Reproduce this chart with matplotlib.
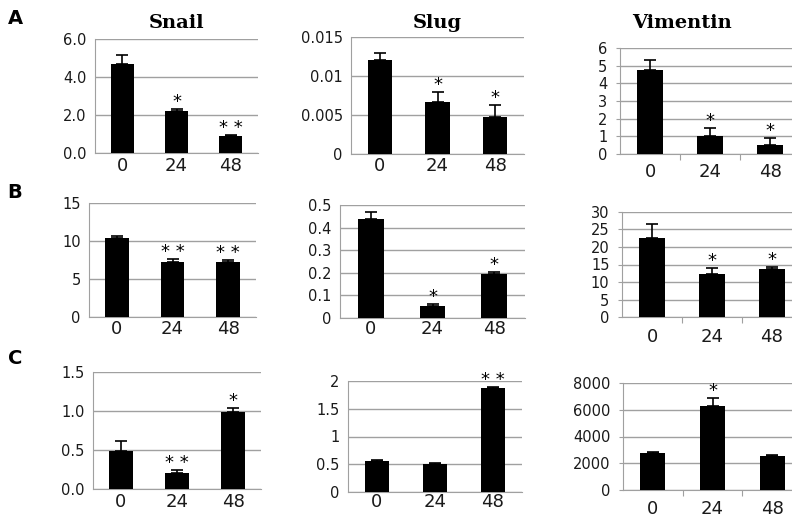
import numpy as np
import matplotlib.pyplot as plt

hours = ['0', '24', '48']
genes = ['Snail', 'Slug', 'Vimentin']
rows = ['A', 'B', 'C']

# mean values and (upward) error bars, row by row, gene by gene
means = {
    ('A', 'Snail'): [4.68, 2.19, 0.91],
    ('A', 'Slug'): [0.0121, 0.00665, 0.0048],
    ('A', 'Vimentin'): [4.77, 1.0, 0.53],
    ('B', 'Snail'): [10.4, 7.3, 7.3],
    ('B', 'Slug'): [0.438, 0.052, 0.196],
    ('B', 'Vimentin'): [22.6, 12.4, 13.7],
    ('C', 'Snail'): [0.49, 0.20, 0.99],
    ('C', 'Slug'): [0.55, 0.513, 1.875],
    ('C', 'Vimentin'): [2800, 6300, 2525],
}
errs = {
    ('A', 'Snail'): [0.46, 0.12, 0.05],
    ('A', 'Slug'): [0.0009, 0.0013, 0.0015],
    ('A', 'Vimentin'): [0.57, 0.49, 0.37],
    ('B', 'Snail'): [0.3, 0.3, 0.15],
    ('B', 'Slug'): [0.03, 0.01, 0.008],
    ('B', 'Vimentin'): [4.1, 1.7, 0.7],
    ('C', 'Snail'): [0.12, 0.045, 0.043],
    ('C', 'Slug'): [0.023, 0.012, 0.015],
    ('C', 'Vimentin'): [25, 550, 75],
}
stars = {
    ('A', 'Snail'): ['', '*', '* *'],
    ('A', 'Slug'): ['', '*', '*'],
    ('A', 'Vimentin'): ['', '*', '*'],
    ('B', 'Snail'): ['', '* *', '* *'],
    ('B', 'Slug'): ['', '*', '*'],
    ('B', 'Vimentin'): ['', '*', '*'],
    ('C', 'Snail'): ['', '* *', '*'],
    ('C', 'Slug'): ['', '', '* *'],
    ('C', 'Vimentin'): ['', '*', ''],
}
yticks = {
    ('A', 'Snail'): ([0, 2, 4, 6], ['0.0', '2.0', '4.0', '6.0']),
    ('A', 'Slug'): ([0, 0.005, 0.01, 0.015], ['0', '0.005', '0.01', '0.015']),
    ('A', 'Vimentin'): ([0, 1, 2, 3, 4, 5, 6], ['0', '1', '2', '3', '4', '5', '6']),
    ('B', 'Snail'): ([0, 5, 10, 15], ['0', '5', '10', '15']),
    ('B', 'Slug'): ([0, 0.1, 0.2, 0.3, 0.4, 0.5], ['0', '0.1', '0.2', '0.3', '0.4', '0.5']),
    ('B', 'Vimentin'): ([0, 5, 10, 15, 20, 25, 30], ['0', '5', '10', '15', '20', '25', '30']),
    ('C', 'Snail'): ([0, 0.5, 1.0, 1.5], ['0.0', '0.5', '1.0', '1.5']),
    ('C', 'Slug'): ([0, 0.5, 1, 1.5, 2], ['0', '0.5', '1', '1.5', '2']),
    ('C', 'Vimentin'): ([0, 2000, 4000, 6000, 8000], ['0', '2000', '4000', '6000', '8000']),
}

# axes boxes in pixels: left, top, right, bottom ; label y position
W, H = 792, 519
boxes = {
    ('A', 'Snail'): (95, 39, 258, 153, 166),
    ('A', 'Slug'): (351, 37, 524, 154, 166),
    ('A', 'Vimentin'): (620, 48, 800, 154, 172),
    ('B', 'Snail'): (89, 203, 256, 317, 329),
    ('B', 'Slug'): (340, 205, 525, 318, 329),
    ('B', 'Vimentin'): (622, 212, 802, 317, 337),
    ('C', 'Snail'): (93, 372, 261, 489, 502),
    ('C', 'Slug'): (348, 381, 522, 492, 502),
    ('C', 'Vimentin'): (623, 383, 802, 490, 509),
}

fig = plt.figure(figsize=(W / 100, H / 100), dpi=100)
x = np.arange(3)

for r in rows:
    for g in genes:
        key = (r, g)
        l, t, rr, b, ly = boxes[key]
        ax = fig.add_axes([l / W, 1 - b / H, (rr - l) / W, (b - t) / H])
        m = np.array(means[key])
        e = np.array(errs[key])
        ax.bar(x, m, width=0.42, color='black', zorder=3)
        ax.errorbar(x, m, yerr=[np.zeros(3), e], fmt='none', ecolor='black',
                    elinewidth=1.2, capsize=4, capthick=1.2, zorder=4)
        ticks, labels = yticks[key]
        ax.set_ylim(0, ticks[-1])
        ax.set_xlim(-0.5, 2.5)
        ax.set_yticks(ticks)
        ax.set_yticklabels(labels, fontsize=10.5, color='#1a1a1a')
        ax.yaxis.grid(True, color='#a0a0a0', linewidth=1, zorder=0)
        for s in ['top', 'right']:
            ax.spines[s].set_visible(False)
        for s in ['left', 'bottom']:
            ax.spines[s].set_color('#a0a0a0')
        ax.tick_params(axis='y', length=3 if g == 'Vimentin' else 0, color='#a0a0a0', pad=6)
        if g == 'Vimentin':
            ax.set_xticks([0.5, 1.5])
            ax.set_xticklabels([])
            ax.tick_params(axis='x', length=4, color='#a0a0a0', direction='out')
        else:
            ax.set_xticks([])
        # category labels placed in pixel rows
        for i, h in enumerate(hours):
            ax.annotate(h, xy=(i, 0), xycoords=('data', 'axes fraction'),
                        xytext=(0, -(ly - b) * 0.72), textcoords='offset points',
                        ha='center', va='center', fontsize=13, color='#1a1a1a')
        for i, st in enumerate(stars[key]):
            if st:
                ax.annotate(st, xy=(i, m[i] + e[i]), xytext=(0, 5),
                            textcoords='offset points', ha='center', va='center',
                            fontsize=13, annotation_clip=False)
        if r == 'A':
            fig.text(((l + rr) / 2 if g != 'Vimentin' else 682) / W, 1 - 23 / H, g,
                     ha='center', va='center', fontsize=14, fontweight='bold',
                     family='DejaVu Serif')

for r, yy in zip(rows, [18, 192, 358]):
    fig.text(15 / W, 1 - yy / H, r, ha='center', va='center', fontsize=14,
             fontweight='bold')

fig.savefig('out.png', dpi=100)
